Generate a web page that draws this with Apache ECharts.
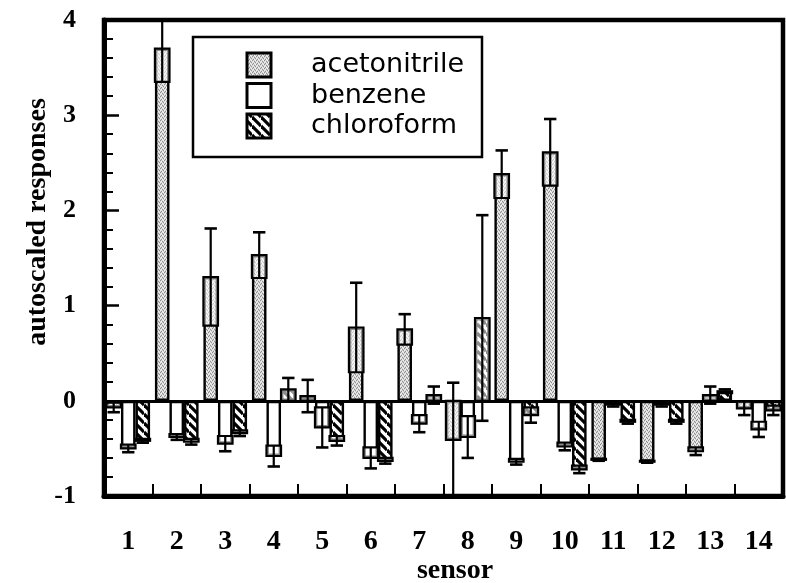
<!DOCTYPE html>
<html>
<head>
<meta charset="utf-8">
<script src="https://cdn.jsdelivr.net/npm/echarts@6/dist/echarts.min.js"></script>
<style>
  html, body { margin: 0; padding: 0; background: #fff; }
  #chart { width: 786px; height: 583px; }
</style>
</head>
<body>
<div id="chart"></div>
<script>
// Sensor categories
const sensors = ['1', '2', '3', '4', '5', '6', '7', '8', '9', '10', '11', '12', '13', '14'];
const seriesNames = ['acetonitrile', 'benzene', 'chloroform'];

// Mean autoscaled responses and their error half-widths
const acetonitrile    = [-0.07, 3.70, 1.30, 1.53, 0.05, 0.77, 0.75, -0.41, 2.38, 2.61, -0.62, -0.64, -0.53, -0.08];
const acetonitrileErr = [ 0.05, 0.35, 0.51, 0.24, 0.17, 0.47, 0.16,  0.60, 0.25, 0.35,  0.01,  0.01,  0.04,  0.07];
const benzene         = [-0.50, -0.38, -0.45, -0.58, -0.28, -0.60, -0.24, -0.38, -0.64, -0.48, -0.04, -0.04, 0.06, -0.30];
const benzeneErr      = [ 0.04,  0.03,  0.08,  0.11,  0.21,  0.11,  0.09,  0.22,  0.03,  0.04,  0.02,  0.02, 0.09,  0.08];
const chloroform      = [-0.42, -0.43, -0.34, 0.12, -0.42, -0.63, 0.06, 0.87, -0.15, -0.72, -0.22, -0.22, 0.10, -0.10];
const chloroformErr   = [ 0.02,  0.03,  0.03, 0.12,  0.05,  0.03, 0.09, 1.08,  0.08,  0.04,  0.02,  0.02, 0.02,  0.05];

// Y axis ticks
const yMin = -1, yMax = 4, yStep = 1;

const SERIF = '"Liberation Serif", "Times New Roman", serif';
const SANS = '"DejaVu Sans", sans-serif';

// Light grey stipple tile
function stippleTile() {
  const c = document.createElement('canvas');
  c.width = 4; c.height = 4;
  const g = c.getContext('2d');
  g.fillStyle = '#d4d4d4';
  g.fillRect(0, 0, 4, 4);
  g.fillStyle = '#8e8e8e';
  [[0, 0], [2, 1], [1, 3], [3, 2]].forEach(p => g.fillRect(p[0], p[1], 1, 1));
  g.fillStyle = '#f4f4f4';
  [[1, 1], [3, 0], [0, 2], [2, 3]].forEach(p => g.fillRect(p[0], p[1], 1, 1));
  return c;
}
// Diagonal "\" hatch tile
function hatchTile() {
  const s = 9;
  const c = document.createElement('canvas');
  c.width = s; c.height = s;
  const g = c.getContext('2d');
  g.fillStyle = '#fff';
  g.fillRect(0, 0, s, s);
  g.strokeStyle = '#000';
  g.lineWidth = 3.2;
  for (let k = -1; k <= 1; k++) {
    g.beginPath();
    g.moveTo(0, k * s);
    g.lineTo(s, s + k * s);
    g.stroke();
  }
  return c;
}

const fills = [
  { image: stippleTile(), repeat: 'repeat' },
  '#ffffff',
  { image: hatchTile(), repeat: 'repeat' }
];
const values = [acetonitrile, benzene, chloroform];
const errors = [acetonitrileErr, benzeneErr, chloroformErr];

const CAT_GAP = 0.10;

function errorRenderer(k) {
  return function (params, api) {
    const idx = api.value(0);
    const v = api.value(1);
    const e = api.value(2);
    const band = api.size([1, 0])[0];
    const bw = band * (1 - CAT_GAP) / 3;
    const cx = api.coord([idx, 0])[0] + (k - 1) * bw;
    const sign = v >= 0 ? 1 : -1;
    const y0 = api.coord([idx, 0])[1];
    const yV = api.coord([idx, v])[1];
    const yIn = api.coord([idx, v - sign * e])[1];
    const yOut = api.coord([idx, v + sign * e])[1];
    // inner half of the error bar is a box inside the bar, stopping at the baseline
    const yBoxEnd = sign > 0 ? Math.min(yIn, y0) : Math.max(yIn, y0);
    const children = [];
    const top = Math.min(yV, yBoxEnd), h = Math.abs(yBoxEnd - yV);
    if (h > 0.5) {
      children.push({
        type: 'rect',
        shape: { x: cx - bw / 2, y: top, width: bw, height: h },
        style: { fill: 'rgba(255,255,255,0.55)', stroke: '#000', lineWidth: 2.2 }
      });
    }
    const capW = bw * 0.85;
    children.push({
      type: 'line',
      shape: { x1: cx, y1: yIn, x2: cx, y2: yOut },
      style: { stroke: '#000', lineWidth: 2.2 }
    });
    children.push({
      type: 'line',
      shape: { x1: cx - capW / 2, y1: yOut, x2: cx + capW / 2, y2: yOut },
      style: { stroke: '#000', lineWidth: 2.6 }
    });
    // cap on the inner end when it reaches past the baseline
    const crosses = sign > 0 ? yIn > y0 + 0.5 : yIn < y0 - 0.5;
    if (crosses) {
      children.push({
        type: 'line',
        shape: { x1: cx - capW / 2, y1: yIn, x2: cx + capW / 2, y2: yIn },
        style: { stroke: '#000', lineWidth: 2.6 }
      });
    }
    return { type: 'group', children: children };
  };
}

const series = [];
values.forEach((vals, k) => {
  const s = {
    name: seriesNames[k],
    type: 'bar',
    data: vals,
    barGap: '0%',
    barCategoryGap: (CAT_GAP * 100) + '%',
    itemStyle: { color: fills[k], borderColor: '#000', borderWidth: 2.4 },
    z: 2
  };
  if (k === 0) {
    s.markLine = {
      silent: true,
      symbol: 'none',
      label: { show: false },
      lineStyle: { color: '#000', width: 3, type: 'solid' },
      data: [{ yAxis: 0 }],
      z: 3
    };
  }
  series.push(s);
});
values.forEach((vals, k) => {
  series.push({
    name: seriesNames[k] + ' error',
    type: 'custom',
    renderItem: errorRenderer(k),
    data: vals.map((v, i) => [i, v, errors[k][i]]),
    encode: { x: 0, y: 1 },
    clip: true,
    silent: true,
    z: 4
  });
});

// Legend box drawn as graphic elements
const legendX = 193, legendY = 37;
const legendGraphics = [{
  type: 'rect',
  shape: { x: legendX, y: legendY, width: 289, height: 120 },
  style: { fill: '#fff', stroke: '#000', lineWidth: 2.5 },
  z: 10
}];
seriesNames.forEach((name, k) => {
  const sy = 53 + k * 30.5;
  legendGraphics.push({
    type: 'rect',
    shape: { x: 247, y: sy, width: 24, height: 24 },
    style: { fill: fills[k], stroke: '#000', lineWidth: 3 },
    z: 11
  });
  legendGraphics.push({
    type: 'text',
    x: 311, y: sy + 12,
    style: { text: name, font: '27px ' + SANS, fill: '#000', textVerticalAlign: 'middle' },
    z: 11
  });
});

const option = {
  animation: false,
  backgroundColor: '#fff',
  grid: {
    left: 104, right: 3, top: 20, bottom: 87,
    show: true, borderColor: '#000', borderWidth: 4.5, backgroundColor: 'transparent'
  },
  xAxis: {
    type: 'category',
    data: sensors,
    axisLine: { onZero: false, lineStyle: { color: '#000', width: 5 } },
    axisTick: { show: true, inside: true, length: 12, lineStyle: { color: '#000', width: 2 } },
    axisLabel: { margin: 32, color: '#000', fontFamily: SERIF, fontWeight: 'bold', fontSize: 28 },
    splitLine: { show: false }
  },
  yAxis: {
    type: 'value',
    min: yMin, max: yMax, interval: yStep,
    axisLine: { show: true, lineStyle: { color: '#000', width: 5 } },
    axisTick: { show: true, inside: true, length: 15, lineStyle: { color: '#000', width: 2.5 } },
    minorTick: { show: true, splitNumber: 5, length: 9, lineStyle: { color: '#000', width: 2 } },
    axisLabel: { margin: 28, color: '#000', fontFamily: SERIF, fontWeight: 'bold', fontSize: 26 },
    splitLine: { show: false }
  },
  graphic: legendGraphics.concat([
    {
      type: 'text',
      x: 38, y: 222, rotation: Math.PI / 2,
      style: { text: 'autoscaled responses', font: 'bold 28px ' + SERIF, fill: '#000',
               textAlign: 'center', textVerticalAlign: 'middle' }
    },
    {
      type: 'text',
      x: 455, y: 571,
      style: { text: 'sensor', font: 'bold 28px ' + SERIF, fill: '#000',
               textAlign: 'center', textVerticalAlign: 'middle' }
    }
  ]),
  series: series
};

const chart = echarts.init(document.getElementById('chart'), null, { renderer: 'canvas' });
chart.setOption(option);
</script>
</body>
</html>
